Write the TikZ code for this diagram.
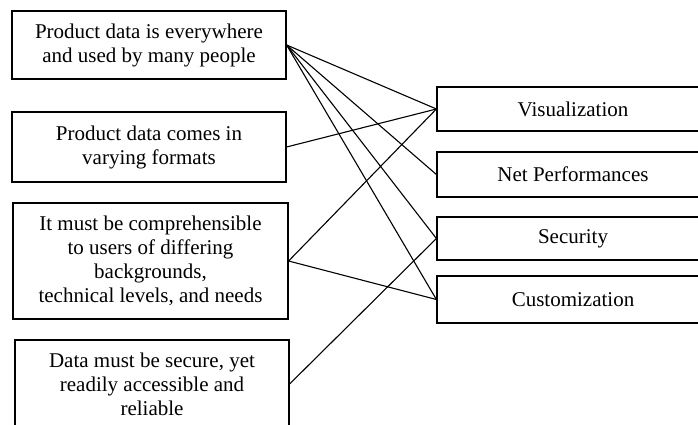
\documentclass[tikz,border=0pt]{standalone}
\usepackage{fontspec}
\setmainfont{Liberation Serif}
\usetikzlibrary{positioning}
\tikzset{
  need/.style={draw, line width=1.2pt, align=center, inner sep=2pt,
    font=\fontsize{21}{24}\selectfont},
  goal/.style={draw, line width=1.2pt, minimum width=272pt,
    font=\fontsize{21}{24}\selectfont}
}
\begin{document}
\begin{tikzpicture}[x=1pt,y=-1pt]
                \useasboundingbox (0,0) rectangle (698,425) ;
                \clip (0,0) rectangle (698,425) ;
                \node [need, minimum width=274pt, minimum height=68pt] (n1) at (149,45) {Product data is everywhere\\and used by many people} ;
                \node [need, minimum width=274pt, minimum height=70pt] (n2) at (149,147) {Product data comes in\\varying formats} ;
                \node [need, minimum width=275pt, minimum height=116pt] (n3) at (150.5,261) {It must be comprehensible\\to users of differing\\backgrounds,\\technical levels, and needs} ;
                \node [need, minimum width=274pt, minimum height=88pt] (n4) at (152,384) {Data must be secure, yet\\readily accessible and\\reliable} ;
                \node [goal, minimum height=44pt] (vis) at (573,109) {Visualization} ;
                \node [goal, minimum height=45pt] (net) at (573,174.5) {Net Performances} ;
                \node [goal, minimum height=43pt] (sec) at (573,238.5) {Security} ;
                \node [goal, minimum height=47pt] (cus) at (573,299.5) {Customization} ;
                \draw [line width=1.1pt] (n1.east) -- (vis.west) ;
                \draw [line width=1.1pt] (n1.east) -- (net.west) ;
                \draw [line width=1.1pt] (n1.east) -- (sec.west) ;
                \draw [line width=1.1pt] (n1.east) -- (cus.west) ;
                \draw [line width=1.1pt] (n2.east) -- (vis.west) ;
                \draw [line width=1.1pt] (n3.east) -- (vis.west) ;
                \draw [line width=1.1pt] (n3.east) -- (cus.west) ;
                \draw [line width=1.1pt] (n4.east) -- (sec.west) ;
            \end{tikzpicture}
\end{document}
